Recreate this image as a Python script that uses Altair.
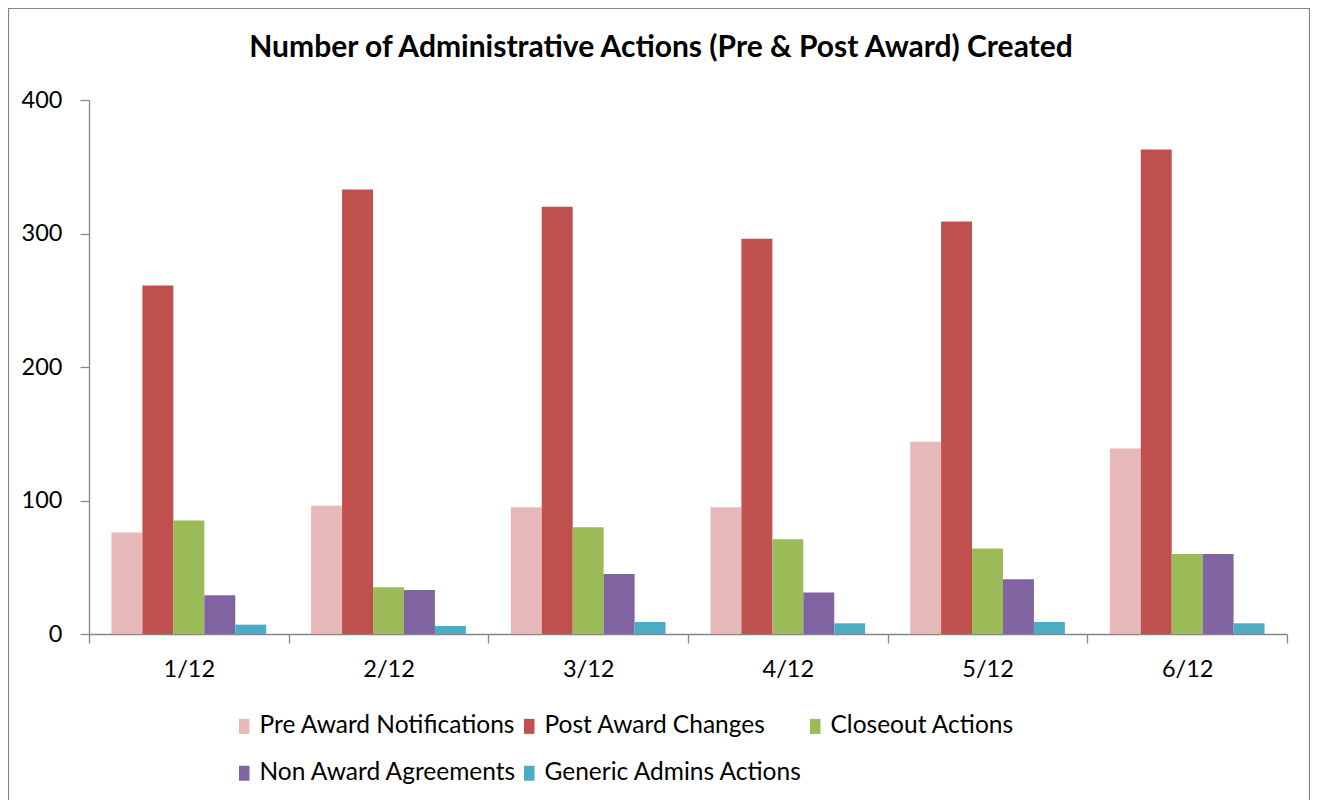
import altair as alt
import pandas as pd

months = ["1/12", "2/12", "3/12", "4/12", "5/12", "6/12"]
series = ["Pre Award Notifications", "Post Award Changes", "Closeout Actions",
          "Non Award Agreements", "Generic Admins Actions"]
pre_award = [76, 96, 95, 95, 144, 139]
post_award = [261, 333, 320, 296, 309, 363]
closeout = [85, 35, 80, 71, 64, 60]
non_award = [29, 33, 45, 31, 41, 60]
generic = [7, 6, 9, 8, 9, 8]
colors = ["#E6B9B8", "#C0504D", "#9BBB59", "#8064A2", "#4BACC6"]
title_text = "Number of Administrative Actions (Pre & Post Award) Created"

rows = []
for name, vals in zip(series, [pre_award, post_award, closeout, non_award, generic]):
    for m, v in zip(months, vals):
        rows.append({"month": m, "series": name, "value": v})
df = pd.DataFrame(rows)

FONT = "Lato"
AXC = "#868686"

bars = alt.Chart(df).mark_bar().encode(
    x=alt.X("month:N", sort=months, title=None,
            scale=alt.Scale(paddingInner=0, paddingOuter=0),
            axis=alt.Axis(labelAngle=0, tickBand="extent", tickSize=9,
                          labelPadding=14, labelFontSize=23.5)),
    xOffset=alt.XOffset("series:N", sort=series,
                        scale=alt.Scale(paddingInner=0, paddingOuter=0.726)),
    y=alt.Y("value:Q", title=None,
            scale=alt.Scale(domain=[0, 400], nice=False),
            axis=alt.Axis(values=[0, 100, 200, 300, 400], grid=False, tickSize=9,
                          labelPadding=18, labelFontSize=23.5)),
    color=alt.Color("series:N", sort=series,
                    scale=alt.Scale(domain=series, range=colors),
                    legend=alt.Legend(title=None, orient="none", legendX=143, legendY=614,
                                      direction="horizontal", columns=3,
                                      columnPadding=0, rowPadding=22,
                                      labelFontSize=24.5, labelFont=FONT, labelColor="#000",
                                      labelOffset=3, labelLimit=500,
                                      symbolType="M-0.7,-1H0.7V1H-0.7Z", symbolSize=225,
                                      symbolStrokeWidth=0)),
)

border = alt.Chart(alt.Data(values=[{}])).mark_rect(
    fill=None, stroke=AXC, strokeWidth=1.2
).encode(
    x=alt.value(-80.5), x2=alt.value(1220.5),
    y=alt.value(-91.5), y2=alt.value(900),
)

title = alt.Chart(alt.Data(values=[{"t": title_text}])).mark_text(
    font=FONT, fontSize=30, fontWeight="bold", color="#000",
    align="center", baseline="middle"
).encode(text="t:N", x=alt.value(572), y=alt.value(-52))

chart = alt.layer(border, bars, title).properties(
    width=1198, height=534,
    autosize=alt.AutoSizeParams(type="none"),
    padding={"left": 81, "top": 92, "right": 23, "bottom": 166},
).configure_view(stroke=None).configure_axis(
    domainColor=AXC, tickColor=AXC, labelColor="#000", labelFont=FONT,
    domainWidth=1.3, tickWidth=1.3,
)

chart.save("out.html", embed_options={"renderer": "svg", "actions": False})
